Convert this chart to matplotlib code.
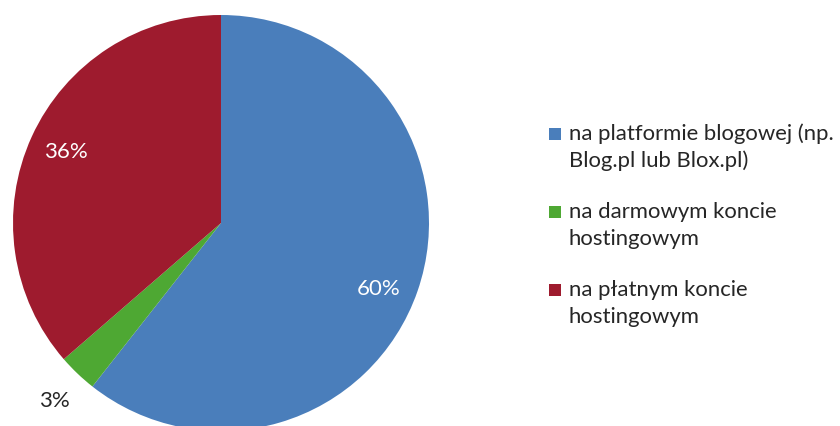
import matplotlib
matplotlib.use("Agg")
import matplotlib.pyplot as plt
from matplotlib.patches import Rectangle
import numpy as np

categories = [
    "na platformie blogowej (np.\nBlog.pl lub Blox.pl)",
    "na darmowym koncie\nhostingowym",
    "na płatnym koncie\nhostingowym",
]
values = [60, 3, 36]
colors = ["#4A7EBB", "#4EA833", "#9E1B2E"]
label_colors = ["white", "#262626", "white"]
label_dist = [0.82, 1.17, 0.82]
label_shift_deg = [-3.5, 0.5, 0.0]

plt.rcParams["font.family"] = ["Lato", "DejaVu Sans"]

W, H = 840, 426
fig = plt.figure(figsize=(W / 100, H / 100), dpi=100)

# pie axes placed in pixel terms: centre (221, 223), radius 208
cx, cy, r = 221, 223, 208
ax = fig.add_axes([(cx - r) / W, (H - cy - r) / H, 2 * r / W, 2 * r / H])
wedges, _ = ax.pie(values, colors=colors, startangle=90, counterclock=False,
                   radius=1.0, wedgeprops=dict(linewidth=0))
for w in wedges:
    w.set_clip_on(False)
ax.set_xlim(-1, 1)
ax.set_ylim(-1, 1)
ax.set_aspect("auto")
ax.axis("off")

for w, v, d, s, c in zip(wedges, values, label_dist, label_shift_deg, label_colors):
    mid = np.deg2rad((w.theta1 + w.theta2) / 2 + s)
    ax.text(d * np.cos(mid), d * np.sin(mid), f"{v}%", ha="center", va="center",
            fontsize=16, color=c, clip_on=False)

# legend entries
lx, tx = 549, 569
line_h = 27
y0 = 134
gap = 78
for i, (lab, col) in enumerate(zip(categories, colors)):
    yy = y0 + i * gap
    fig.patches.append(Rectangle((lx / W, 1 - (yy + 6) / H), 12 / W, 12 / H,
                                 transform=fig.transFigure, facecolor=col,
                                 edgecolor="none"))
    for j, line in enumerate(lab.split("\n")):
        fig.text(tx / W, 1 - (yy + j * line_h) / H, line, ha="left", va="center",
                 fontsize=15.9, color="#262626")

fig.savefig("out.png", dpi=100)
